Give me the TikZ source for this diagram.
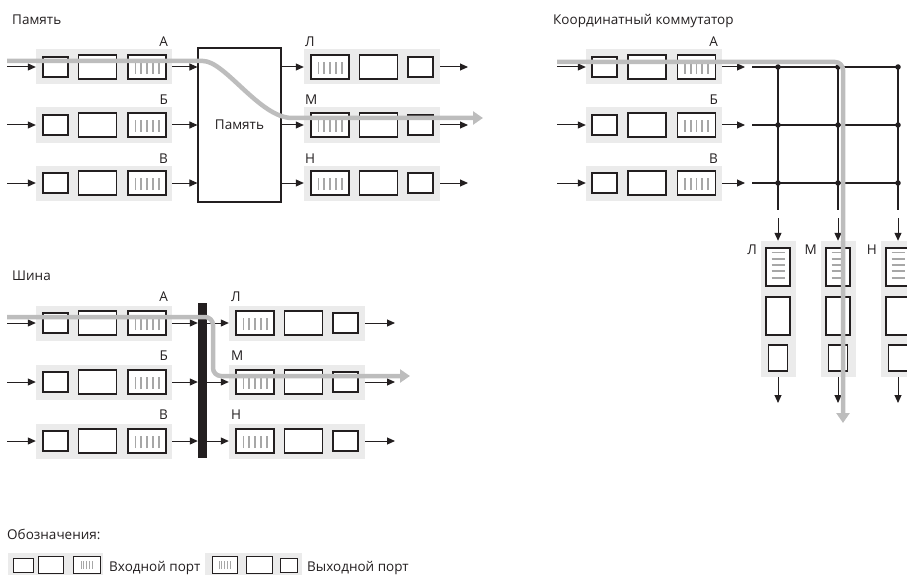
\documentclass[tikz,border=0pt]{standalone}
\usepackage{fontspec}
\setmainfont{Open Sans}
\usetikzlibrary{arrows.meta}
\definecolor{Ink}{HTML}{231F20}
\definecolor{PortGray}{HTML}{EBEBEB}
\definecolor{FlowGray}{HTML}{BDBDBD}
\definecolor{Stripe}{HTML}{A7A7A7}
\tikzset{
  port/.style={fill=PortGray,minimum width=136pt,minimum height=35pt,inner sep=0pt},
  vport/.style={fill=PortGray,minimum width=35pt,minimum height=136pt,inner sep=0pt},
  cell/.style={draw=Ink,fill=white,line width=1.1pt,inner sep=0pt},
  slot/.style={cell,minimum width=25pt,minimum height=20pt},
  bigslot/.style={cell,minimum width=38pt,minimum height=24pt},
  queuebox/.style={bigslot,path picture={\foreach \k in {-2,...,2}
      \draw[Stripe,line width=1.8pt] ([xshift=\k*5.8pt,yshift=-7pt]path picture bounding box.center) -- ++(0pt,12pt);}},
  vslot/.style={cell,minimum width=19pt,minimum height=26pt},
  vbigslot/.style={cell,minimum width=24pt,minimum height=38pt},
  vqueuebox/.style={vbigslot,path picture={\foreach \k in {-2,...,2}
      \draw[Stripe,line width=1.8pt] ([xshift=-6.5pt,yshift=2pt+\k*6.3pt]path picture bounding box.center) -- ++(13pt,0pt);}},
  legqueue/.style={cell,line width=.8pt,path picture={\foreach \k in {-2,...,2}
      \draw[Stripe,line width=.7pt] ([xshift=\k*2.8pt,yshift=-4pt]path picture bounding box.center) -- ++(0pt,8pt);}},
  link/.style={-{Triangle[length=8pt,width=7pt]},draw=Ink,line width=1pt},
  wire/.style={draw=Ink,line width=1.4pt},
  joint/.style={circle,fill=Ink,minimum size=5.5pt,inner sep=0pt},
  flow/.style={draw=FlowGray,line width=4.5pt,-{Triangle[length=10pt,width=13pt]},rounded corners=8pt},
  caption/.style={font=\fontsize{13.5}{16}\selectfont,text=Ink,inner sep=0pt},
}
\begin{document}
\begin{tikzpicture}[x=1pt,y=-1pt]
  \useasboundingbox (0,0) rectangle (907,575);
  \clip (0,0) rectangle (907,575);

  % --- memory switch
  \node[caption,anchor=base west] (memtitle) at (12,25) {Память};
  \node[cell,minimum width=83pt,minimum height=154pt,caption] (mem) at (239.5,125) {Память};
  \foreach \y/\n/\t/\u in {67/a/А/Л,125/b/Б/М,183/c/В/Н}{
    \node[port] (mi\n) at (104,\y) {};
    \node[slot] (mis\n) at (55.5,\y) {};
    \node[bigslot] (mib\n) at (97.5,\y) {};
    \node[queuebox] (miq\n) at (147,\y) {};
    \node[caption,anchor=base east] (mil\n) at (168,\y-20) {\t};
    \coordinate (min\n) at (7,\y);
    \draw[link] (min\n) -- (mi\n.west);
    \draw[link] (mi\n.east) -- (mi\n.east -| mem.west);
    \node[port] (mo\n) at (372,\y) {};
    \node[queuebox] (moq\n) at (330,\y) {};
    \node[bigslot] (mob\n) at (378.5,\y) {};
    \node[slot] (mos\n) at (420.5,\y) {};
    \node[caption,anchor=base west] (mol\n) at (305,\y-20) {\u};
    \draw[link] (mem.east |- mo\n.west) -- (mo\n.west);
    \coordinate (mout\n) at (468,\y);
    \draw[link] (mo\n.east) -- (mout\n);
  }
  \coordinate (mf0) at (7,61);
  \coordinate (mf1) at (195,61);
  \coordinate (mf2) at (300,118);
  \coordinate (mf3) at (483,118);
  \draw[flow] (mf0) -- (mf1) .. controls (225,61) and (260,118) .. (mf2) -- (mf3);

  % --- crossbar
  \node[caption,anchor=base west] (xbtitle) at (553,25) {Координатный коммутатор};
  \foreach \y/\r/\t in {67/1/А,125/2/Б,183/3/В}{
    \node[port] (xi\r) at (654,\y) {};
    \node[slot] (xis\r) at (604.5,\y) {};
    \node[bigslot] (xib\r) at (647,\y) {};
    \node[queuebox] (xiq\r) at (696.5,\y) {};
    \node[caption,anchor=base east] (xil\r) at (718,\y-20) {\t};
    \coordinate (xin\r) at (557,\y);
    \draw[link] (xin\r) -- (xi\r.west);
    \coordinate (xie\r) at (745,\y);
    \draw[link] (xi\r.east) -- (xie\r);
    \coordinate (xh\r) at (752,\y);
    \foreach \x/\c in {778/1,838/2,898/3}
      \node[joint] (j\r\c) at (\x,\y) {};
    \draw[wire] (xh\r) -- (j\r3.center);
  }
  \foreach \x/\c/\t in {778/1/Л,838/2/М,898/3/Н}{
    \coordinate (xv\c) at (\x,210);
    \draw[wire] (j1\c.center) -- (xv\c);
    \node[vport] (xo\c) at (\x,309) {};
    \node[vqueuebox] (xoq\c) at (\x,267) {};
    \node[vbigslot] (xob\c) at (\x,316) {};
    \node[vslot] (xos\c) at (\x,358) {};
    \node[caption,anchor=base east] (xol\c) at (\x-21,254) {\t};
    \coordinate (xtop\c) at (\x,218);
    \draw[link] (xtop\c) -- (xo\c.north);
    \coordinate (xbot\c) at (\x,403);
    \draw[link] (xo\c.south) -- (xbot\c);
  }
  \coordinate (xf0) at (557,62);
  \coordinate (xf1) at (843,62);
  \coordinate (xf2) at (843,423);
  \draw[flow] (xf0) -- (xf1) -- (xf2);

  % --- bus
  \node[caption,anchor=base west] (bustitle) at (12,280) {Шина};
  \node[fill=Ink,minimum width=9pt,minimum height=155pt,inner sep=0pt] (bus) at (202.5,380.5) {};
  \foreach \y/\n/\t/\u in {323/a/А/Л,382/b/Б/М,441/c/В/Н}{
    \node[port] (bi\n) at (104,\y) {};
    \node[slot] (bis\n) at (55.5,\y) {};
    \node[bigslot] (bib\n) at (97.5,\y) {};
    \node[queuebox] (biq\n) at (147,\y) {};
    \node[caption,anchor=base east] (bil\n) at (168,\y-22) {\t};
    \coordinate (bin\n) at (7,\y);
    \draw[link] (bin\n) -- (bi\n.west);
    \draw[link] (bi\n.east) -- (bi\n.east -| bus.west);
    \node[port] (bo\n) at (297,\y) {};
    \node[queuebox] (boq\n) at (255,\y) {};
    \node[bigslot] (bob\n) at (303.5,\y) {};
    \node[slot] (bos\n) at (345.5,\y) {};
    \node[caption,anchor=base west] (bol\n) at (231,\y-22) {\u};
    \draw[link] (bus.east |- bo\n.west) -- (bo\n.west);
    \coordinate (bout\n) at (395,\y);
    \draw[link] (bo\n.east) -- (bout\n);
  }
  \coordinate (bf0) at (7,317);
  \coordinate (bf1) at (213,317);
  \coordinate (bf2) at (213,376);
  \coordinate (bf3) at (410,376);
  \draw[flow] (bf0) -- (bf1) -- (bf2) -- (bf3);

  % --- legend
  \node[caption,anchor=base west] (legtitle) at (7,539) {Обозначения:};
  \node[fill=PortGray,minimum width=95pt,minimum height=24pt,inner sep=0pt] (legin) at (55.5,565) {};
  \node[cell,line width=.8pt,minimum width=20pt,minimum height=14pt] (legins) at (23,565.5) {};
  \node[cell,line width=.8pt,minimum width=25pt,minimum height=17pt] (leginb) at (50.5,565) {};
  \node[legqueue,minimum width=27pt,minimum height=17pt] (leginq) at (86.5,565) {};
  \node[caption,anchor=base west] (legintext) at (109,571) {Входной порт};
  \node[fill=PortGray,minimum width=97pt,minimum height=24pt,inner sep=0pt] (legout) at (253.5,565) {};
  \node[legqueue,minimum width=25pt,minimum height=17pt] (legoutq) at (224.5,565) {};
  \node[cell,line width=.8pt,minimum width=26pt,minimum height=17pt] (legoutb) at (259,565) {};
  \node[cell,line width=.8pt,minimum width=17pt,minimum height=14pt] (legouts) at (288.5,565.5) {};
  \node[caption,anchor=base west] (legouttext) at (307,571) {Выходной порт};
\end{tikzpicture}
\end{document}
